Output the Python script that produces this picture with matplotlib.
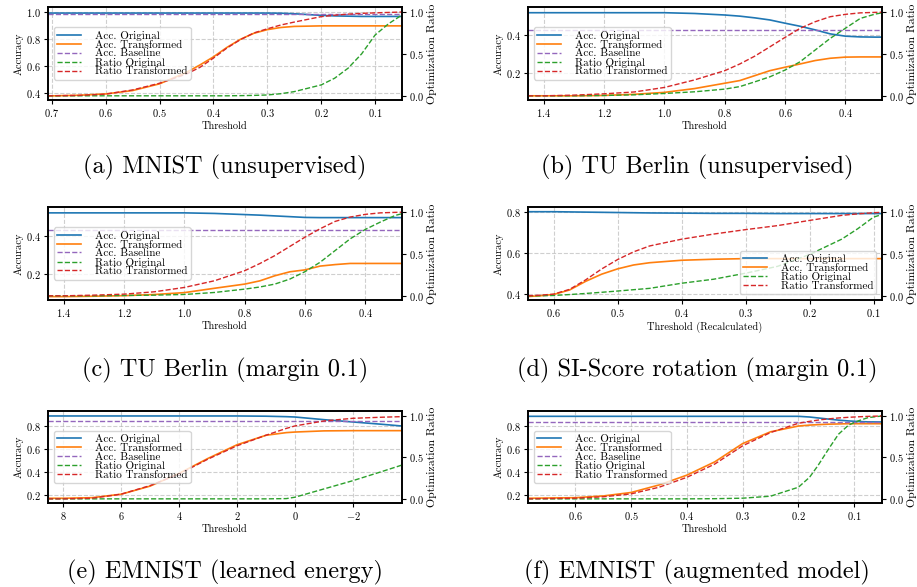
import numpy as np
import matplotlib
matplotlib.use("Agg")
import matplotlib.pyplot as plt

plt.rcParams['font.family'] = 'serif'
plt.rcParams['font.serif'] = ['cmr10', 'DejaVu Serif']
plt.rcParams['mathtext.fontset'] = 'cm'
plt.rcParams['axes.formatter.use_mathtext'] = True
plt.rcParams['axes.unicode_minus'] = True

# (a) MNIST (unsupervised)
a_thr = [0.707, 0.65, 0.6, 0.55, 0.5, 0.45, 0.425, 0.4, 0.375, 0.35, 0.325, 0.3, 0.275, 0.25, 0.2, 0.175,
         0.15, 0.125, 0.1, 0.075, 0.05]
a_acc_orig = [0.995, 0.995, 0.995, 0.995, 0.995, 0.995, 0.995, 0.995, 0.995, 0.995, 0.995, 0.995, 0.994, 0.99,
              0.978, 0.974, 0.972, 0.97, 0.97, 0.97, 0.97]
a_acc_trans = [0.38, 0.385, 0.395, 0.42, 0.47, 0.555, 0.61, 0.67, 0.74, 0.8, 0.845, 0.872, 0.888, 0.896, 0.9,
               0.9, 0.9, 0.9, 0.9, 0.9, 0.9]
a_baseline = 0.99
a_ratio_orig = [0.0, 0.0, 0.0, 0.0, 0.0, 0.0, 0.0, 0.0, 0.0, 0.002, 0.005, 0.01, 0.025, 0.05, 0.13, 0.21,
                0.33, 0.5, 0.725, 0.86, 0.965]
a_ratio_trans = [0.0, 0.005, 0.02, 0.07, 0.15, 0.26, 0.34, 0.45, 0.57, 0.67, 0.75, 0.8, 0.845, 0.88, 0.945,
                 0.962, 0.975, 0.984, 0.99, 0.995, 1.0]

# (b) TU Berlin (unsupervised)
b_thr = [1.453, 1.4, 1.3, 1.2, 1.1, 1.0, 0.9, 0.8, 0.75, 0.7, 0.65, 0.6, 0.55, 0.5, 0.45, 0.4, 0.35, 0.3, 0.278]
b_acc_orig = [0.516, 0.516, 0.516, 0.516, 0.516, 0.516, 0.512, 0.504, 0.498, 0.489, 0.478, 0.461, 0.445, 0.426,
              0.405, 0.393, 0.389, 0.388, 0.388]
b_acc_trans = [0.08, 0.08, 0.08, 0.082, 0.088, 0.098, 0.118, 0.146, 0.16, 0.186, 0.212, 0.23, 0.247, 0.265,
               0.277, 0.283, 0.284, 0.284, 0.284]
b_baseline = 0.423
b_ratio_orig = [0.0, 0.0, 0.0, 0.004, 0.012, 0.028, 0.048, 0.08, 0.11, 0.167, 0.227, 0.307, 0.406, 0.546,
                0.685, 0.805, 0.924, 0.976, 0.99]
b_ratio_trans = [0.0, 0.0, 0.008, 0.024, 0.046, 0.1, 0.19, 0.3, 0.38, 0.474, 0.585, 0.697, 0.805, 0.884,
                 0.944, 0.972, 0.99, 0.996, 0.998]

# (c) TU Berlin (margin 0.1)
c_thr = b_thr
c_acc_orig = [0.521, 0.521, 0.521, 0.521, 0.521, 0.521, 0.518, 0.512, 0.509, 0.505, 0.501, 0.497, 0.496, 0.496,
              0.496, 0.496, 0.496, 0.496, 0.496]
c_acc_trans = [0.079, 0.079, 0.081, 0.084, 0.09, 0.1, 0.123, 0.145, 0.162, 0.189, 0.21, 0.22, 0.24, 0.248,
               0.254, 0.254, 0.254, 0.254, 0.254]
c_baseline = 0.43
c_ratio_orig = [0.0, 0.0, 0.0, 0.004, 0.008, 0.016, 0.04, 0.08, 0.105, 0.14, 0.2, 0.288, 0.4, 0.54,
                0.68, 0.792, 0.88, 0.96, 0.98]
c_ratio_trans = [0.0, 0.0, 0.008, 0.02, 0.048, 0.1, 0.18, 0.3, 0.385, 0.48, 0.59, 0.7, 0.8, 0.888,
                 0.94, 0.972, 0.99, 0.996, 0.998]

# (d) SI-Score rotation (margin 0.1)
d_thr = [0.64, 0.62, 0.6, 0.575, 0.55, 0.525, 0.5, 0.475, 0.45, 0.4, 0.35, 0.3, 0.25, 0.2, 0.15, 0.125, 0.1, 0.087]
d_acc_orig = [0.802, 0.802, 0.802, 0.801, 0.8, 0.799, 0.798, 0.797, 0.796, 0.795, 0.794, 0.794, 0.793, 0.793,
              0.793, 0.793, 0.793, 0.793]
d_acc_trans = [0.388, 0.392, 0.398, 0.42, 0.462, 0.497, 0.523, 0.542, 0.553, 0.565, 0.57, 0.573, 0.573, 0.573,
               0.573, 0.573, 0.573, 0.573]
d_ratio_orig = [0.0, 0.0, 0.004, 0.015, 0.028, 0.042, 0.057, 0.073, 0.089, 0.15, 0.198, 0.27, 0.352, 0.494,
                0.676, 0.8, 0.94, 0.97]
d_ratio_trans = [0.0, 0.008, 0.02, 0.077, 0.19, 0.32, 0.433, 0.525, 0.595, 0.676, 0.737, 0.79, 0.838, 0.9,
                 0.96, 0.978, 0.992, 0.996]

# (e) EMNIST (learned energy)
e_thr = [8.52, 8, 7, 6, 5, 4, 3, 2, 1, 0.3, 0, -1, -2, -3, -3.69]
e_acc_orig = [0.887, 0.887, 0.887, 0.887, 0.887, 0.887, 0.887, 0.887, 0.885, 0.881, 0.878, 0.855, 0.835, 0.815, 0.8]
e_acc_trans = [0.175, 0.175, 0.18, 0.21, 0.28, 0.39, 0.52, 0.638, 0.72, 0.743, 0.748, 0.758, 0.76, 0.76, 0.76]
e_baseline = 0.84
e_ratio_orig = [0.0, 0.0, 0.0, 0.0, 0.0, 0.0, 0.0, 0.0, 0.0, 0.003, 0.02, 0.12, 0.22, 0.33, 0.408]
e_ratio_trans = [0.0, 0.0, 0.008, 0.056, 0.16, 0.3, 0.48, 0.64, 0.768, 0.85, 0.88, 0.94, 0.972, 0.985, 0.992]

# (f) EMNIST (augmented model)
f_thr = [0.685, 0.6, 0.55, 0.5, 0.45, 0.4, 0.35, 0.3, 0.25, 0.2, 0.18, 0.165, 0.146, 0.128, 0.11, 0.093,
         0.075, 0.05]
f_acc_orig = [0.884, 0.884, 0.884, 0.884, 0.884, 0.884, 0.884, 0.884, 0.884, 0.884, 0.878, 0.87, 0.86, 0.851,
              0.844, 0.839, 0.836, 0.835]
f_acc_trans = [0.175, 0.18, 0.195, 0.225, 0.29, 0.375, 0.49, 0.648, 0.75, 0.8, 0.808, 0.812, 0.816, 0.818,
               0.82, 0.82, 0.82, 0.82]
f_baseline = 0.832
f_ratio_orig = [0.0, 0.0, 0.0, 0.0, 0.0, 0.0, 0.002, 0.008, 0.032, 0.14, 0.26, 0.4, 0.6, 0.78, 0.89, 0.94,
                0.98, 1.0]
f_ratio_trans = [0.0, 0.008, 0.025, 0.06, 0.14, 0.26, 0.42, 0.64, 0.8, 0.912, 0.935, 0.95, 0.965, 0.976,
                 0.984, 0.99, 0.995, 1.0]

captions = ["(a) MNIST (unsupervised)", "(b) TU Berlin (unsupervised)", "(c) TU Berlin (margin 0.1)",
            "(d) SI-Score rotation (margin 0.1)", "(e) EMNIST (learned energy)", "(f) EMNIST (augmented model)"]

panels = [
    (a_thr, a_acc_orig, a_acc_trans, a_baseline, a_ratio_orig, a_ratio_trans, (0.35, 1.04), [0.4, 0.6, 0.8, 1.0]),
    (b_thr, b_acc_orig, b_acc_trans, b_baseline, b_ratio_orig, b_ratio_trans, (0.058, 0.546), [0.2, 0.4]),
    (c_thr, c_acc_orig, c_acc_trans, c_baseline, c_ratio_orig, c_ratio_trans, (0.061, 0.552), [0.2, 0.4]),
    (d_thr, d_acc_orig, d_acc_trans, None, d_ratio_orig, d_ratio_trans, (0.371, 0.825), [0.4, 0.6, 0.8]),
    (e_thr, e_acc_orig, e_acc_trans, e_baseline, e_ratio_orig, e_ratio_trans, (0.134, 0.93), [0.2, 0.4, 0.6, 0.8]),
    (f_thr, f_acc_orig, f_acc_trans, f_baseline, f_ratio_orig, f_ratio_trans, (0.134, 0.93), [0.2, 0.4, 0.6, 0.8]),
]

W, H = 917, 587
fig = plt.figure(figsize=(W / 100, H / 100), dpi=100)

lefts = [48, 528]
tops = [7, 207, 411]
bottoms = [100, 300, 503]
cap_y = [167, 370, 572]
cap_x = [225, 697]

for i, (thr, acc_o, acc_t, base, rat_o, rat_t, ylim, yticks) in enumerate(panels):
    row, col = i // 2, i % 2
    l = lefts[col]
    ax = fig.add_axes([l / W, 1 - bottoms[row] / H, 354 / W, (bottoms[row] - tops[row]) / H])
    ax2 = ax.twinx()

    h1, = ax.plot(thr, acc_o, color='C0', lw=1.2, label='Acc. Original')
    h2, = ax.plot(thr, acc_t, color='C1', lw=1.2, label='Acc. Transformed')
    handles = [h1, h2]
    if base is not None:
        h3 = ax.axhline(base, color='C4', lw=1.0, ls='--', label='Acc. Baseline')
        handles.append(h3)
    h4, = ax2.plot(thr, rat_o, color='C2', lw=1.0, ls='--', label='Ratio Original')
    h5, = ax2.plot(thr, rat_t, color='C3', lw=1.0, ls='--', label='Ratio Transformed')
    handles += [h4, h5]

    ax.set_xlim(thr[0], thr[-1])
    ax.set_ylim(*ylim)
    ax.set_yticks(yticks)
    ax2.set_ylim(-0.05, 1.06)
    ax2.set_yticks([0.0, 0.5, 1.0])
    ax.grid(True, ls='--', color='#b0b0b0', alpha=0.6, lw=0.8)

    ax.set_xlabel('Threshold (Recalculated)' if i == 3 else 'Threshold', fontsize=7.5, labelpad=2)
    ax.set_ylabel('Accuracy', fontsize=7.5, labelpad=2)
    ax2.set_ylabel('Optimization Ratio', fontsize=8.5, labelpad=2)
    for a in (ax, ax2):
        a.tick_params(labelsize=7.5, length=3, pad=2)
        for s in a.spines.values():
            s.set_linewidth(1.2)

    ax2.legend(handles, [h.get_label() for h in handles], loc='lower right' if i == 3 else 'center left',
               fontsize=8, labelspacing=-0.08, handlelength=2.2, borderpad=0.3, handletextpad=1.2)

    fig.text(cap_x[col] / W, 1 - cap_y[row] / H, captions[i], ha='center', va='center', fontsize=17.5)

fig.savefig('out.png', dpi=100)
